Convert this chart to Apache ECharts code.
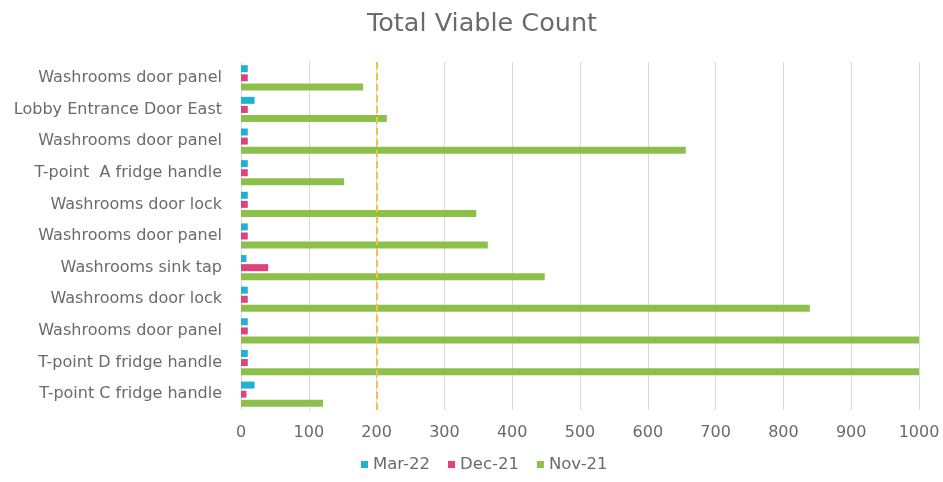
<!DOCTYPE html>
<html>
<head>
<meta charset="utf-8">
<script src="https://cdn.jsdelivr.net/npm/echarts@6/dist/echarts.min.js"></script>
<style>
  html, body { margin: 0; padding: 0; background: #fff; }
  #chart { width: 943px; height: 482px; }
</style>
</head>
<body>
<div id="chart"></div>
<script>
// Sampling points, listed top to bottom
const categories = [
  'Washrooms door panel',
  'Lobby Entrance Door East',
  'Washrooms door panel',
  'T-point  A fridge handle',
  'Washrooms door lock',
  'Washrooms door panel',
  'Washrooms sink tap',
  'Washrooms door lock',
  'Washrooms door panel',
  'T-point D fridge handle',
  'T-point C fridge handle'
];
const mar22 = [10, 20, 10, 10, 10, 10, 8, 10, 10, 10, 20];
const dec21 = [10, 10, 10, 10, 10, 10, 40, 10, 10, 10, 8];
const nov21 = [180, 215, 656, 152, 347, 364, 448, 839, 1000, 1000, 121];
const threshold = 200;
const xTicks = { min: 0, max: 1000, interval: 100 };

const font = '"DejaVu Sans", sans-serif';
const textColor = '#6a6a6a';
const chart = echarts.init(document.getElementById('chart'));

chart.setOption({
  animation: false,
  title: {
    text: 'Total Viable Count',
    left: 362,
    top: 6,
    textStyle: { fontFamily: font, fontSize: 25.5, fontWeight: 'normal', color: textColor }
  },
  legend: {
    bottom: 4,
    left: 356,
    itemWidth: 7,
    itemHeight: 7,
    itemGap: 18,
    icon: 'rect',
    textStyle: { fontFamily: font, fontSize: 16.5, color: textColor },
    data: ['Mar-22', 'Dec-21', 'Nov-21']
  },
  grid: { left: 241, right: 24, top: 62, bottom: 72 },
  xAxis: {
    type: 'value',
    min: xTicks.min,
    max: xTicks.max,
    interval: xTicks.interval,
    axisLine: { show: false },
    axisTick: { show: false },
    axisLabel: {
      fontFamily: font, fontSize: 16, color: textColor, margin: 15,
      formatter: (v) => String(v)
    },
    splitLine: { lineStyle: { color: '#d9d9d9', width: 1 } }
  },
  yAxis: {
    type: 'category',
    data: categories,
    inverse: true,
    axisLine: { show: false },
    axisTick: { show: false },
    axisLabel: { fontFamily: font, fontSize: 16, color: textColor, margin: 19 }
  },
  series: [
    {
      name: 'Mar-22', type: 'bar', data: mar22,
      itemStyle: { color: '#1fb1d8' },
      barWidth: 7, barGap: '30%', barCategoryGap: '20%'
    },
    {
      name: 'Dec-21', type: 'bar', data: dec21,
      itemStyle: { color: '#e0417f' },
      barWidth: 7, barGap: '30%'
    },
    {
      name: 'Nov-21', type: 'bar', data: nov21,
      itemStyle: { color: '#8dc04b' },
      barWidth: 7, barGap: '30%',
      markLine: {
        silent: true,
        symbol: 'none',
        label: { show: false },
        lineStyle: { color: '#f4c240', type: [7, 4], width: 2 },
        data: [{ xAxis: threshold }]
      }
    }
  ]
});
</script>
</body>
</html>
